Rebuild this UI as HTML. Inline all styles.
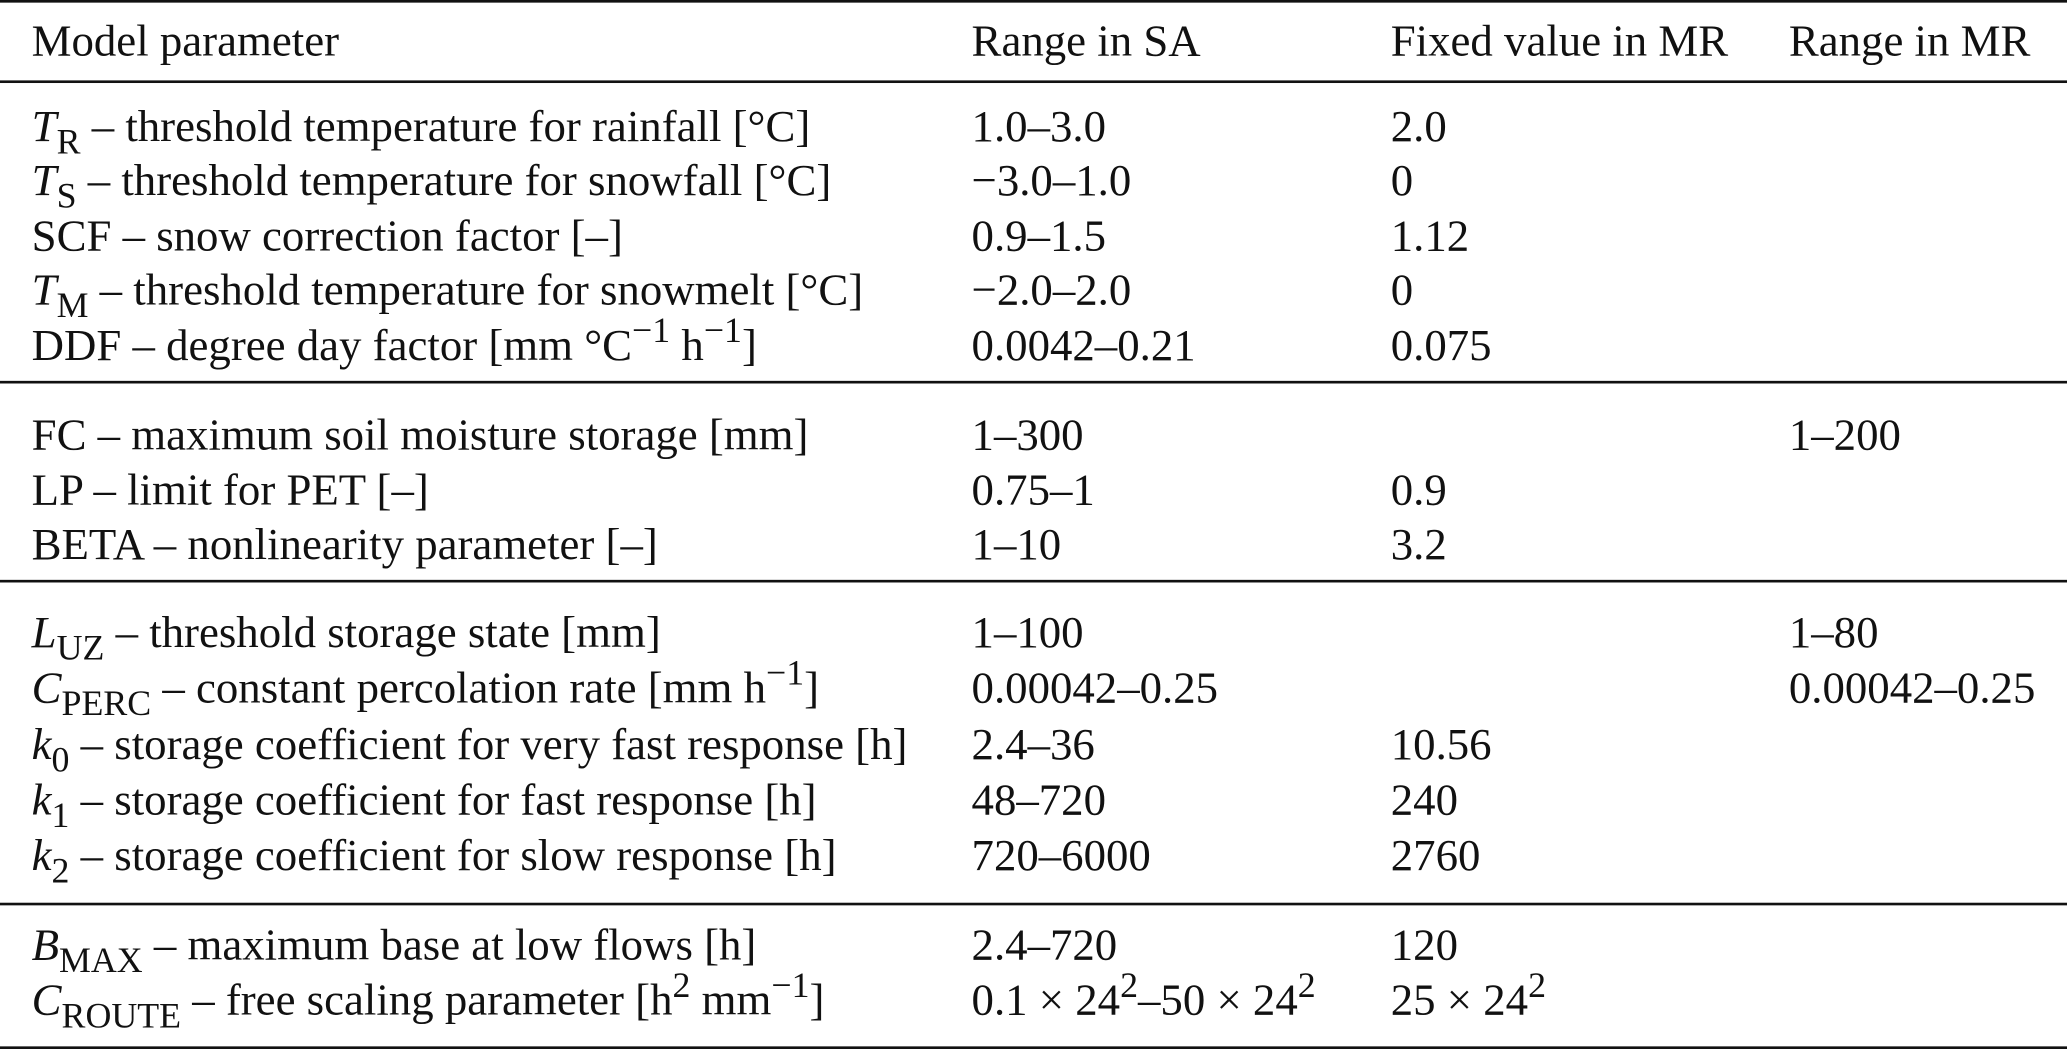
<!DOCTYPE html>
<html><head><meta charset="utf-8"><style>
html,body{margin:0;padding:0;background:#fff;}
body{width:2067px;height:1049px;overflow:hidden;position:relative;}
#wrap{position:absolute;left:0;top:0;width:1568px;height:796px;transform:scale(1.31824,1.31784);transform-origin:0 0;font-family:"Liberation Serif",serif;font-size:34px;color:#111;}
.r{position:absolute;left:0;width:1568px;height:34px;line-height:34px;white-space:nowrap;}
.c{position:absolute;top:0;}
.c0{left:24px}.c1{left:737px}.c2{left:1055px}.c3{left:1357px}
.hl{position:absolute;left:0;width:1568px;background:#111;}
i{font-style:italic}
sub{font-size:80%;vertical-align:-0.35em;line-height:0}
sup{font-size:80%;vertical-align:0.5em;line-height:0}
</style></head><body>
<div id="wrap">
<div class="hl" style="top:0;height:2px"></div>
<div class="hl" style="top:61px;height:1.5px"></div>
<div class="hl" style="top:289px;height:1.5px"></div>
<div class="hl" style="top:440px;height:1.5px"></div>
<div class="hl" style="top:685px;height:1.5px"></div>
<div class="hl" style="top:794px;height:2px"></div>

<div class="r" style="top:15px"><span class="c c0">Model parameter</span><span class="c c1">Range in SA</span><span class="c c2">Fixed value in MR</span><span class="c c3">Range in MR</span></div>

<div class="r" style="top:80px"><span class="c c0"><i>T</i><sub>R</sub> – threshold temperature for rainfall [°C]</span><span class="c c1">1.0–3.0</span><span class="c c2">2.0</span></div>
<div class="r" style="top:121px"><span class="c c0"><i>T</i><sub>S</sub> – threshold temperature for snowfall [°C]</span><span class="c c1">−3.0–1.0</span><span class="c c2">0</span></div>
<div class="r" style="top:163px"><span class="c c0">SCF – snow correction factor [–]</span><span class="c c1">0.9–1.5</span><span class="c c2">1.12</span></div>
<div class="r" style="top:204px"><span class="c c0"><i>T</i><sub>M</sub> – threshold temperature for snowmelt [°C]</span><span class="c c1">−2.0–2.0</span><span class="c c2">0</span></div>
<div class="r" style="top:246px"><span class="c c0">DDF – degree day factor [mm °C<sup>−1</sup> h<sup>−1</sup>]</span><span class="c c1">0.0042–0.21</span><span class="c c2">0.075</span></div>

<div class="r" style="top:314px"><span class="c c0">FC – maximum soil moisture storage [mm]</span><span class="c c1">1–300</span><span class="c c3">1–200</span></div>
<div class="r" style="top:356px"><span class="c c0">LP – limit for PET [–]</span><span class="c c1">0.75–1</span><span class="c c2">0.9</span></div>
<div class="r" style="top:397px"><span class="c c0">BETA – nonlinearity parameter [–]</span><span class="c c1">1–10</span><span class="c c2">3.2</span></div>

<div class="r" style="top:464px"><span class="c c0"><i>L</i><sub>UZ</sub> – threshold storage state [mm]</span><span class="c c1">1–100</span><span class="c c3">1–80</span></div>
<div class="r" style="top:506px"><span class="c c0"><i>C</i><sub>PERC</sub> – constant percolation rate [mm h<sup>−1</sup>]</span><span class="c c1">0.00042–0.25</span><span class="c c3">0.00042–0.25</span></div>
<div class="r" style="top:549px"><span class="c c0"><i>k</i><sub>0</sub> – storage coefficient for very fast response [h]</span><span class="c c1">2.4–36</span><span class="c c2">10.56</span></div>
<div class="r" style="top:591px"><span class="c c0"><i>k</i><sub>1</sub> – storage coefficient for fast response [h]</span><span class="c c1">48–720</span><span class="c c2">240</span></div>
<div class="r" style="top:633px"><span class="c c0"><i>k</i><sub>2</sub> – storage coefficient for slow response [h]</span><span class="c c1">720–6000</span><span class="c c2">2760</span></div>

<div class="r" style="top:701px"><span class="c c0"><i>B</i><sub>MAX</sub> – maximum base at low flows [h]</span><span class="c c1">2.4–720</span><span class="c c2">120</span></div>
<div class="r" style="top:743px"><span class="c c0"><i>C</i><sub>ROUTE</sub> – free scaling parameter [h<sup>2</sup> mm<sup>−1</sup>]</span><span class="c c1">0.1 × 24<sup>2</sup>–50 × 24<sup>2</sup></span><span class="c c2">25 × 24<sup>2</sup></span></div>
</div>
</body></html>
